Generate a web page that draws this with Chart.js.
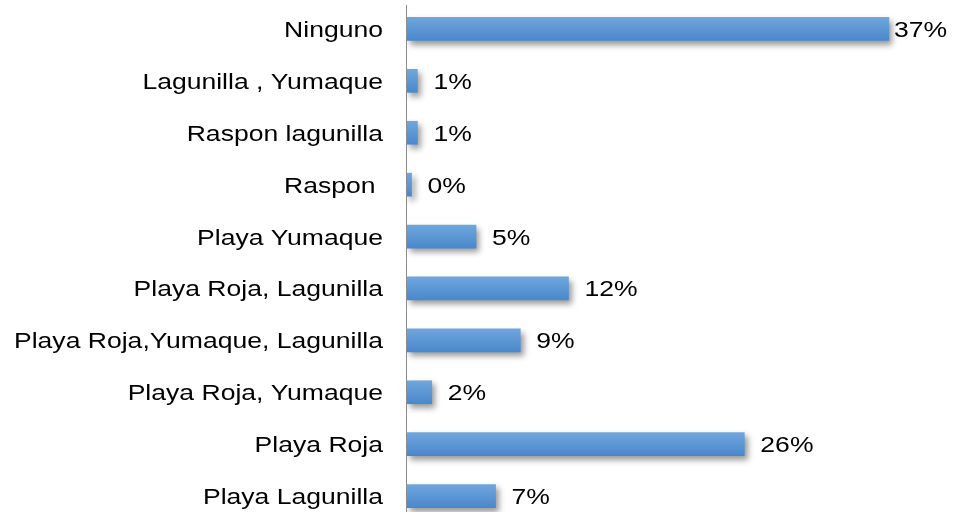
<!DOCTYPE html>
<html>
<head>
<meta charset="utf-8">
<script src="https://cdn.jsdelivr.net/npm/chart.js@4"></script>
<style>
  html, body { margin: 0; padding: 0; background: #fff; overflow: hidden; }
</style>
</head>
<body>
<canvas id="myChart" width="958" height="522"></canvas>
<script>
const lugares = [
    'Ninguno',
    'Lagunilla , Yumaque',
    'Raspon lagunilla',
    'Raspon ',
    'Playa Yumaque',
    'Playa Roja, Lagunilla',
    'Playa Roja,Yumaque, Lagunilla',
    'Playa Roja, Yumaque',
    'Playa Roja',
    'Playa Lagunilla'
];
const porcentajes = [37, 0.8, 0.8, 0.35, 5.3, 12.4, 8.7, 1.9, 25.9, 6.8];

const BAR_H = 23;
const FONT = '"Liberation Sans", Arial, sans-serif';
const TEXT_SIZE = 22.5;
const TEXT_STRETCH = 1.18;   // text is a bit wider than tall

// gradient fill, lighter on top like the office-style bars
const barFill = (context) => {
    const chart = context.chart;
    const yScale = chart.scales && chart.scales.y;
    if (!chart.chartArea || !yScale) return '#5b9bd5';
    const y = yScale.getPixelForValue(context.dataIndex);
    if (!isFinite(y)) return '#5b9bd5';
    const g = chart.ctx.createLinearGradient(0, y - BAR_H / 2, 0, y + BAR_H / 2);
    g.addColorStop(0, '#6fa6dd');
    g.addColorStop(1, '#4a88cc');
    return g;
};

const barShadow = {
    id: 'barShadow',
    beforeDatasetsDraw(chart) {
        const ctx = chart.ctx;
        ctx.save();
        ctx.shadowColor = 'rgba(0,0,0,0.4)';
        ctx.shadowBlur = 6;
        ctx.shadowOffsetX = 3;
        ctx.shadowOffsetY = 4;
    },
    afterDatasetsDraw(chart) {
        chart.ctx.restore();
    }
};

// draws text stretched horizontally, anchored at (x, baseline)
function stretchedText(ctx, txt, x, y, align) {
    ctx.save();
    ctx.translate(x, y);
    ctx.scale(TEXT_STRETCH, 1);
    ctx.textAlign = align;
    ctx.textBaseline = 'alphabetic';
    ctx.fillText(txt, 0, 0);
    ctx.restore();
}

// category names and value labels
const textLabels = {
    id: 'textLabels',
    afterDatasetsDraw(chart) {
        const ctx = chart.ctx;
        const yScale = chart.scales.y;
        const xScale = chart.scales.x;
        const meta = chart.getDatasetMeta(0);
        ctx.save();
        ctx.font = TEXT_SIZE + 'px ' + FONT;
        ctx.fillStyle = '#000';
        lugares.forEach((name, i) => {
            const y = yScale.getPixelForValue(i);
            stretchedText(ctx, name, xScale.left - 24, y + 8, 'right');
        });
        meta.data.forEach((bar, i) => {
            const gap = porcentajes[i] > 30 ? 5 : 16;
            stretchedText(ctx, Math.round(porcentajes[i]) + '%', bar.x + gap, bar.y + 8, 'left');
        });
        ctx.restore();
    }
};

// vertical axis line at zero
const axisLine = {
    id: 'axisLine',
    beforeDatasetsDraw(chart) {
        const ctx = chart.ctx;
        const x = Math.round(chart.scales.x.getPixelForValue(0));
        ctx.save();
        ctx.strokeStyle = '#8c8c8c';
        ctx.lineWidth = 1;
        ctx.beginPath();
        ctx.moveTo(x - 0.5, 5);
        ctx.lineTo(x - 0.5, chart.height);
        ctx.stroke();
        ctx.restore();
    }
};

const data = {
    labels: lugares,
    datasets: [{
        data: porcentajes,
        backgroundColor: barFill,
        barThickness: BAR_H,
        borderWidth: 0
    }]
};

const config = {
    type: 'bar',
    data: data,
    options: {
        indexAxis: 'y',
        responsive: false,
        animation: false,
        layout: { padding: { top: 3, right: 30, left: 0, bottom: 0 } },
        plugins: {
            legend: { display: false },
            tooltip: { enabled: false }
        },
        scales: {
            x: {
                display: false,
                min: 0,
                max: 40
            },
            y: {
                grid: { display: false, drawTicks: false },
                border: { display: false },
                ticks: { display: false },
                afterFit(scale) {
                    scale.width = 407;
                    scale.paddingTop = 0;
                    scale.paddingBottom = 0;
                }
            }
        }
    },
    plugins: [axisLine, barShadow, textLabels]
};

var myChart = new Chart(document.getElementById('myChart'), config);
</script>
</body>
</html>
